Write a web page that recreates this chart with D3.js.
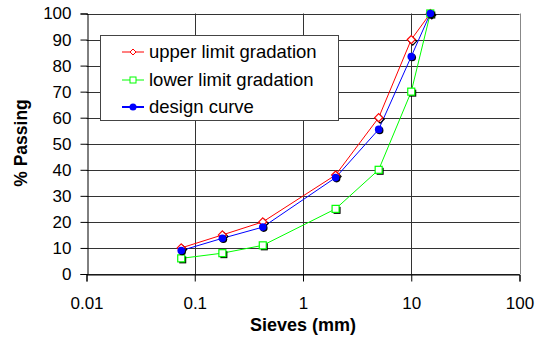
<!DOCTYPE html>
<html><head><meta charset="utf-8">
<script src="https://cdn.jsdelivr.net/npm/d3@7"></script>
<style>body{margin:0;background:#fff}svg{display:block}text{font-family:"Liberation Sans",Arial,sans-serif}</style>
</head><body><svg id="c" width="535" height="337"></svg>
<script>
const sieves = [0.075, 0.18, 0.425, 2, 5, 10, 15];
const upperLimit = [10, 15, 20, 38, 60, 90, 100];
const lowerLimit = [6, 8, 11, 25, 40, 70, 100];
const designCurve = [9, 13.7, 18, 37, 55.5, 83.5, 100];
const xTicks = [0.01, 0.1, 1, 10, 100];
const yTicks = [0, 10, 20, 30, 40, 50, 60, 70, 80, 90, 100];
const seriesNames = ["upper limit gradation", "lower limit gradation", "design curve"];

const svg = d3.select("#c");
const L = 86.5, R = 519.5, T = 13.5, B = 274;
const x = d3.scaleLog().domain([0.01, 100]).range([L, R]);
const y = d3.scaleLinear().domain([0, 100]).range([B, T]);

// gridlines
svg.append("g").selectAll("line").data(yTicks).join("line")
  .attr("x1", L).attr("x2", R).attr("y1", d => Math.round(y(d)) + 0.5).attr("y2", d => Math.round(y(d)) + 0.5)
  .attr("stroke", "#333").attr("stroke-width", 1);
svg.append("g").selectAll("line").data(xTicks.slice(1)).join("line")
  .attr("x1", d => Math.round(x(d)) + 0.5).attr("x2", d => Math.round(x(d)) + 0.5).attr("y1", T).attr("y2", B)
  .attr("stroke", d => d === 100 ? "#888" : "#333").attr("stroke-width", 1);

// axes
const yAxis = d3.axisLeft(y).tickValues(yTicks).tickSize(7).tickPadding(9).tickFormat(d3.format("d"));
const gy = svg.append("g").attr("transform", `translate(${Math.round(L)+0.5},0)`).call(yAxis);
gy.select(".domain").attr("stroke", "#000");
gy.selectAll(".tick line").attr("stroke", "#000");
gy.selectAll("text").attr("font-size", 17).attr("fill", "#000");

const xAxis = d3.axisBottom(x).tickValues(xTicks).tickSize(7).tickPadding(15).tickFormat(d => String(d));
const gx = svg.append("g").attr("transform", `translate(0,${Math.round(B)+0.5})`).call(xAxis);
gx.select(".domain").attr("stroke", "#000");
gx.selectAll(".tick line").attr("stroke", "#000");
gx.selectAll("text").attr("font-size", 17).attr("fill", "#000");

// titles
svg.append("text").attr("transform", `translate(27,${143}) rotate(-90)`).attr("text-anchor", "middle")
  .attr("font-size", 17.5).attr("font-weight", "bold").text("% Passing");
svg.append("text").attr("x", 303).attr("y", 331).attr("text-anchor", "middle")
  .attr("font-size", 18).attr("font-weight", "bold").text("Sieves (mm)");

const series = [
  {name: seriesNames[0], vals: upperLimit, color: "#ff0000", shape: "diamond"},
  {name: seriesNames[1], vals: lowerLimit, color: "#00ff00", shape: "square"},
  {name: seriesNames[2], vals: designCurve, color: "#0000ff", shape: "circle"}
];

function drawMarker(g, shape, color, cx, cy, shadow) {
  if (shape === "diamond") {
    const s = 4;
    if (shadow) g.append("path").attr("d", `M${cx+1.5},${cy-s+1.5}L${cx+s+1.5},${cy+1.5}L${cx+1.5},${cy+s+1.5}L${cx-s+1.5},${cy+1.5}Z`).attr("fill", "none").attr("stroke", "#000").attr("stroke-width", 1.2);
    g.append("path").attr("d", `M${cx},${cy-s}L${cx+s},${cy}L${cx},${cy+s}L${cx-s},${cy}Z`).attr("fill", "#fff").attr("stroke", color).attr("stroke-width", 1.2);
  } else if (shape === "square") {
    const s = 3.5;
    if (shadow) g.append("rect").attr("x", cx-s+1.5).attr("y", cy-s+1.5).attr("width", 2*s).attr("height", 2*s).attr("fill", "#000");
    g.append("rect").attr("x", cx-s).attr("y", cy-s).attr("width", 2*s).attr("height", 2*s).attr("fill", "#fff").attr("stroke", color).attr("stroke-width", 1.2);
  } else {
    if (shadow) g.append("circle").attr("cx", cx+1).attr("cy", cy+1).attr("r", 3.8).attr("fill", "#000");
    g.append("circle").attr("cx", cx).attr("cy", cy).attr("r", 3.8).attr("fill", color);
  }
}

const line = d3.line().x(d => x(d[0])).y(d => y(d[1]));
series.forEach(s => {
  const pts = sieves.map((v, i) => [v, s.vals[i]]);
  svg.append("path").attr("d", line(pts)).attr("fill", "none").attr("stroke", s.color).attr("stroke-width", 1);
});
series.forEach(s => {
  const g = svg.append("g");
  sieves.forEach((v, i) => drawMarker(g, s.shape, s.color, x(v), y(s.vals[i]), true));
});

// legend
const lg = svg.append("g");
lg.append("rect").attr("x", 100.5).attr("y", 35.5).attr("width", 238).attr("height", 85).attr("fill", "#fff").attr("stroke", "#444");
const rowY = [52, 80, 107];
series.forEach((s, i) => {
  lg.append("line").attr("x1", 122).attr("x2", 144).attr("y1", rowY[i]).attr("y2", rowY[i]).attr("stroke", s.color).attr("stroke-width", i === 2 ? 2 : 1);
  const gm = lg.append("g");
  if (s.shape === "diamond") {
    gm.append("path").attr("d", `M133,${rowY[i]-3}L136,${rowY[i]}L133,${rowY[i]+3}L130,${rowY[i]}Z`).attr("fill", "#fff").attr("stroke", s.color);
  } else if (s.shape === "square") {
    gm.append("rect").attr("x", 130).attr("y", rowY[i]-3).attr("width", 6).attr("height", 6).attr("fill", "#fff").attr("stroke", s.color);
  } else {
    gm.append("circle").attr("cx", 133).attr("cy", rowY[i]).attr("r", 3.5).attr("fill", s.color);
  }
  lg.append("text").attr("x", 149).attr("y", rowY[i]).attr("dy", "0.35em").attr("font-size", 18.5).text(s.name);
});
</script></body></html>
